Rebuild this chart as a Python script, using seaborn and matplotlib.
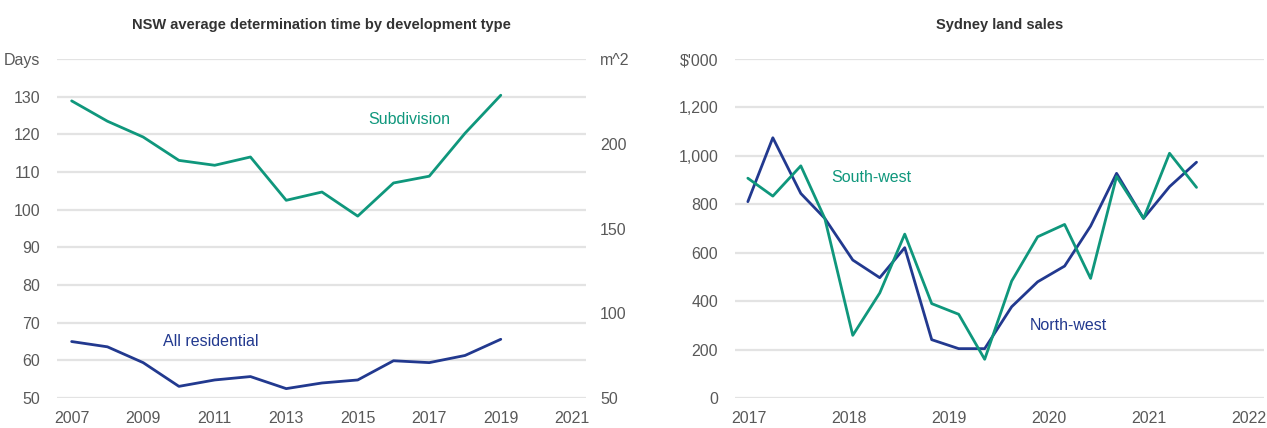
import numpy as np
import pandas as pd
import matplotlib.pyplot as plt
import seaborn as sns

# left chart: NSW average determination time (days)
years = [2007, 2008, 2009, 2010, 2011, 2012, 2013, 2014, 2015, 2016, 2017, 2018, 2019]
subdivision = [128.9, 123.5, 119.3, 113.1, 111.8, 114.0, 102.5, 104.7, 98.3, 107.1, 108.9, 120.3, 130.4]
all_residential = [65.0, 63.6, 59.4, 53.1, 54.8, 55.7, 52.5, 54.0, 54.8, 59.9, 59.4, 61.3, 65.6]

# right chart: Sydney land sales ($'000)
sale_dates = [2016.99, 2017.24, 2017.52, 2017.76, 2018.04, 2018.31, 2018.56, 2018.83, 2019.10,
              2019.36, 2019.63, 2019.89, 2020.16, 2020.42, 2020.68, 2020.95, 2021.21, 2021.48]
north_west = [811, 1075, 845, 742, 570, 497, 621, 241, 204, 204, 377, 480, 545, 710, 928, 742, 873, 974]
south_west = [908, 834, 959, 742, 259, 434, 677, 390, 346, 160, 483, 666, 717, 494, 915, 742, 1011, 870]

GREEN = "#0f977c"
NAVY = "#22398f"
GREY = "#595959"
GRID = "#e3e3e3"

sns.set_theme(style="white")
plt.rcParams["font.family"] = ["Liberation Sans", "DejaVu Sans"]

left_df = pd.DataFrame({"year": years * 2,
                        "days": subdivision + all_residential,
                        "type": ["Subdivision"] * len(years) + ["All residential"] * len(years)})
right_df = pd.DataFrame({"date": sale_dates * 2,
                         "value": north_west + south_west,
                         "region": ["North-west"] * len(sale_dates) + ["South-west"] * len(sale_dates)})

fig = plt.figure(figsize=(12.67, 4.28), dpi=100)
ax1 = fig.add_axes([0.0447, 0.070, 0.418, 0.792])
ax2 = fig.add_axes([0.580, 0.070, 0.418, 0.792])

TICK_FS = 11.5

def style_axes(ax):
    for s in ax.spines.values():
        s.set_visible(False)
    ax.tick_params(axis="both", length=0, labelsize=TICK_FS, labelcolor=GREY)
    ax.grid(axis="y", color=GRID, linewidth=1.6)
    ax.grid(axis="x", visible=False)
    ax.set_xlabel("")
    ax.set_ylabel("")


# ---- left chart
sns.lineplot(data=left_df, x="year", y="days", hue="type",
             palette={"Subdivision": GREEN, "All residential": NAVY},
             linewidth=2.0, legend=False, ax=ax1)
ax1.set_xlim(2006.58, 2021.39)
ax1.set_ylim(50, 140)
ax1.set_xticks(range(2007, 2022, 2))
ax1.set_yticks(range(50, 141, 10))
ax1.set_yticklabels([str(v) for v in range(50, 140, 10)] + ["Days"])
style_axes(ax1)
ax1.tick_params(axis="y", pad=12)
ax1.tick_params(axis="x", pad=9)

ax1r = ax1.twinx()
ax1r.set_ylim(50, 250)
ax1r.set_yticks([50, 100, 150, 200, 250])
ax1r.set_yticklabels(["50", "100", "150", "200", "m^2"])
for s in ax1r.spines.values():
    s.set_visible(False)
ax1r.tick_params(axis="y", length=0, labelsize=TICK_FS, labelcolor=GREY, pad=10)
ax1r.grid(False)

ax1.text(2016.45, 124, "Subdivision", color=GREEN, fontsize=TICK_FS, ha="center", va="center")
ax1.text(2010.9, 65.1, "All residential", color=NAVY, fontsize=TICK_FS, ha="center", va="center")
ax1.set_title("NSW average determination time by development type",
              fontsize=10.5, fontweight="bold", color="#333333", pad=22)

# ---- right chart
sns.lineplot(data=right_df, x="date", y="value", hue="region",
             palette={"North-west": NAVY, "South-west": GREEN},
             linewidth=2.0, legend=False, ax=ax2)
ax2.set_xlim(2016.86, 2022.16)
ax2.set_ylim(0, 1400)
ax2.set_xticks(range(2017, 2023))
ax2.set_yticks(range(0, 1401, 200))
ax2.set_yticklabels([f"{v:,}" for v in range(0, 1400, 200)] + ["$'000"])
style_axes(ax2)
ax2.tick_params(axis="y", pad=12)
ax2.tick_params(axis="x", pad=9)

ax2.text(2018.23, 911, "South-west", color=GREEN, fontsize=TICK_FS, ha="center", va="center")
ax2.text(2020.2, 300, "North-west", color=NAVY, fontsize=TICK_FS, ha="center", va="center")
ax2.set_title("Sydney land sales", fontsize=10.5, fontweight="bold", color="#333333", pad=22)

fig.savefig("out.png", dpi=100)
